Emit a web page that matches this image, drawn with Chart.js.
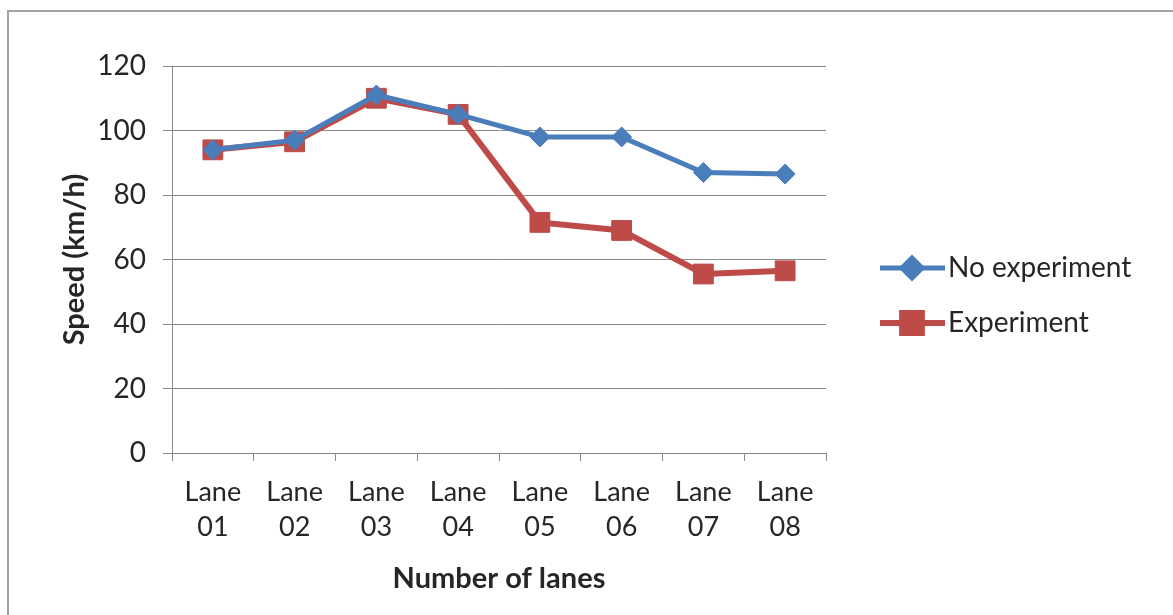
<!DOCTYPE html>
<html>
<head>
<meta charset="utf-8">
<script src="https://cdn.jsdelivr.net/npm/chart.js@4"></script>
<style>
  html, body { margin: 0; padding: 0; background: #fff; overflow: hidden; }
  #wrap { position: relative; width: 1173px; height: 615px; }
  #frame { position: absolute; left: 7px; top: 10px; width: 1200px; height: 700px;
           border: 2px solid #a3a3a3; box-sizing: border-box; pointer-events: none; }
  canvas { position: absolute; left: 0; top: 0; }
</style>
</head>
<body>
<div id="wrap">
  <canvas id="c" width="1173" height="615"></canvas>
  <div id="frame"></div>
</div>
<script>
// Lane categories (two-line tick labels)
const lanes = [
  ['Lane', '01'], ['Lane', '02'], ['Lane', '03'], ['Lane', '04'],
  ['Lane', '05'], ['Lane', '06'], ['Lane', '07'], ['Lane', '08']
];
// Average speed, km/h
const noExperiment = [94, 97, 111, 105, 98, 98, 87, 86.5];
const experiment   = [94, 96.5, 110, 105, 71.5, 69, 55.5, 56.5];
const yTicks = [0, 20, 40, 60, 80, 100, 120];

const FONT = 'Lato, "Open Sans", sans-serif';
const TEXT = '#262626';
const GRID = '#8a8a8a';
const BLUE = '#4a7ebb';
const RED = '#be4b48';

// Legend drawn to the right of the plot: line sample with marker, then label
const sideLegend = {
  id: 'sideLegend',
  afterDraw(chart) {
    const ctx = chart.ctx;
    const items = [
      { ds: 0, y: 268 },
      { ds: 1, y: 323 }
    ];
    items.forEach(it => {
      const ds = chart.data.datasets[it.ds];
      ctx.save();
      ctx.strokeStyle = ds.borderColor;
      ctx.lineWidth = ds.borderWidth;
      ctx.beginPath();
      ctx.moveTo(880, it.y);
      ctx.lineTo(945, it.y);
      ctx.stroke();
      Chart.helpers.drawPoint(ctx, {
        pointStyle: ds.pointStyle,
        radius: ds.pointRadius,
        borderWidth: 1
      }, 912, it.y);
      ctx.fillStyle = ds.pointBackgroundColor;
      ctx.fill();
      ctx.fillStyle = TEXT;
      ctx.font = '28px ' + FONT;
      ctx.textAlign = 'left';
      ctx.textBaseline = 'middle';
      ctx.fillText(ds.label, 948, it.y);
      ctx.restore();
    });
  }
};

new Chart(document.getElementById('c'), {
  type: 'line',
  data: {
    labels: lanes,
    datasets: [
      {
        label: 'No experiment',
        data: noExperiment,
        borderColor: BLUE,
        backgroundColor: BLUE,
        pointBackgroundColor: BLUE,
        pointBorderColor: BLUE,
        borderWidth: 5,
        pointStyle: 'rectRot',
        pointRadius: 10,
        pointBorderWidth: 1,
        tension: 0
      },
      {
        label: 'Experiment',
        data: experiment,
        borderColor: RED,
        backgroundColor: RED,
        pointBackgroundColor: RED,
        pointBorderColor: RED,
        borderWidth: 6,
        pointStyle: 'rect',
        pointRadius: 14,
        pointBorderWidth: 1,
        tension: 0
      }
    ]
  },
  options: {
    responsive: false,
    animation: false,
    layout: { padding: { left: 55, right: 347, top: 66, bottom: 0 } },
    plugins: { legend: { display: false }, tooltip: { enabled: false } },
    scales: {
      x: {
        offset: true,
        grid: {
          offset: true, drawOnChartArea: false, drawTicks: true,
          tickLength: 8, color: GRID, lineWidth: 1
        },
        border: { color: GRID, width: 1 },
        ticks: {
          color: TEXT, font: { family: FONT, size: 27, lineHeight: 1.3 },
          padding: 14, maxRotation: 0, autoSkip: false
        },
        title: {
          display: true, text: 'Number of lanes', color: TEXT,
          font: { family: FONT, size: 29, weight: 'bold' },
          padding: { top: 0, bottom: 19 }
        },
        afterFit(scale) { scale.height = 162; }
      },
      y: {
        min: 0, max: 120,
        afterBuildTicks(scale) { scale.ticks = yTicks.map(v => ({ value: v })); },
        grid: { color: GRID, lineWidth: 1, tickLength: 9 },
        border: { color: GRID, width: 1 },
        ticks: { color: TEXT, font: { family: FONT, size: 28 }, padding: 17 },
        title: {
          display: true, text: 'Speed (km/h)', color: TEXT,
          font: { family: FONT, size: 29, weight: 'bold' },
          padding: { top: 2, bottom: 0 }
        },
        afterFit(scale) { scale.width = 117; }
      }
    }
  },
  plugins: [sideLegend]
});
</script>
</body>
</html>
